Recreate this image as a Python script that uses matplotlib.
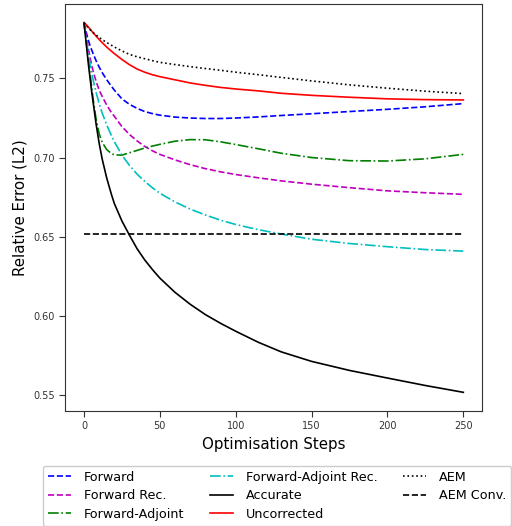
import matplotlib
matplotlib.use("Agg")
import matplotlib.pyplot as plt

# values
steps = [0, 1, 2, 3, 4, 5, 6, 8, 10, 12, 15, 18, 20, 25, 30, 35, 40, 45, 50,
         60, 70, 80, 90, 100, 115, 130, 150, 175, 200, 225, 250]

forward = [0.785, 0.781, 0.777, 0.7735, 0.7705, 0.768, 0.7655, 0.761, 0.757, 0.7535, 0.749, 0.745, 0.7425,
           0.737, 0.7335, 0.731, 0.729, 0.7277, 0.7267,
           0.7255, 0.7249, 0.7246, 0.7246, 0.7249, 0.7256, 0.7265, 0.7276, 0.729, 0.7304, 0.732, 0.734]
forward_rec = [0.785, 0.779, 0.7735, 0.768, 0.763, 0.7585, 0.7545, 0.748, 0.7425, 0.7385, 0.733, 0.7285, 0.726,
               0.7195, 0.7145, 0.7105, 0.707, 0.7043, 0.702,
               0.6985, 0.6955, 0.693, 0.691, 0.6893, 0.6872, 0.6853, 0.6832, 0.681, 0.679, 0.6778, 0.6768]
forward_adj = [0.785, 0.777, 0.769, 0.761, 0.753, 0.745, 0.737, 0.724, 0.715, 0.7095, 0.705, 0.7025, 0.7017,
               0.7015, 0.703, 0.7045, 0.706, 0.7072, 0.7083,
               0.7103, 0.7113, 0.7112, 0.7099, 0.7082, 0.7055, 0.7027, 0.700, 0.698, 0.6978, 0.6992, 0.702]
forward_adj_rec = [0.785, 0.778, 0.771, 0.765, 0.759, 0.754, 0.749, 0.741, 0.734, 0.728, 0.7205, 0.714, 0.710,
                   0.7015, 0.695, 0.6895, 0.685, 0.681, 0.6775,
                   0.672, 0.6675, 0.6638, 0.6605, 0.6578, 0.6545, 0.6518, 0.6485, 0.6458, 0.6438, 0.642, 0.641]
accurate = [0.785, 0.776, 0.767, 0.758, 0.750, 0.742, 0.735, 0.721, 0.709, 0.699, 0.687, 0.677, 0.671,
            0.660, 0.651, 0.6425, 0.6355, 0.6295, 0.624,
            0.615, 0.6075, 0.601, 0.5955, 0.5905, 0.5835, 0.5775, 0.5715, 0.5658, 0.561, 0.5563, 0.552]
uncorrected = [0.785, 0.7842, 0.7832, 0.7821, 0.781, 0.7798, 0.7787, 0.7765, 0.7744, 0.7724, 0.7696, 0.7671, 0.7655,
               0.7618, 0.7585, 0.7558, 0.7538, 0.7522, 0.751,
               0.749, 0.747, 0.7455, 0.7442, 0.7432, 0.742, 0.7405, 0.7392, 0.738, 0.737, 0.7365, 0.7363]
aem = [0.785, 0.7838, 0.7827, 0.7816, 0.7806, 0.7797, 0.7788, 0.7772, 0.7757, 0.7743, 0.7725, 0.7708, 0.7697,
       0.7672, 0.765, 0.7635, 0.7623, 0.7611, 0.760,
       0.7586, 0.7573, 0.7561, 0.755, 0.7538, 0.7522, 0.7505, 0.7483, 0.7458, 0.7437, 0.7418, 0.7403]
aem_conv = 0.6515

fig = plt.figure(figsize=(5.12, 5.26), dpi=100)
ax = fig.add_axes([0.127, 0.219, 0.815, 0.773])

lw = 1.2
ax.plot(steps, forward, 'b--', lw=lw, label='Forward')
ax.plot(steps, forward_rec, 'm--', lw=lw, label='Forward Rec.')
ax.plot(steps, forward_adj, 'g-.', lw=lw, label='Forward-Adjoint')
ax.plot(steps, forward_adj_rec, 'c-.', lw=lw, label='Forward-Adjoint Rec.')
ax.plot(steps, accurate, 'k-', lw=lw, label='Accurate')
ax.plot(steps, uncorrected, 'r-', lw=lw, label='Uncorrected')
ax.plot(steps, aem, 'k:', lw=lw, label='AEM')
ax.plot([steps[0], steps[-1]], [aem_conv, aem_conv], 'k--', lw=lw, label='AEM Conv.')

ax.set_xticks([0, 50, 100, 150, 200, 250])
ax.set_yticks([0.55, 0.60, 0.65, 0.70, 0.75])
ax.tick_params(labelsize=7, colors='#333333', length=4)
for s in ax.spines.values():
    s.set_color('#333333')
    s.set_linewidth(0.8)
ax.set_xlabel('Optimisation Steps', fontsize=10.8)
ax.set_ylabel('Relative Error (L2)', fontsize=10.8)

ax.legend(loc='upper left', bbox_to_anchor=(-0.053, -0.135), borderaxespad=0, ncol=3, fontsize=9.2,
          handlelength=1.8, handletextpad=1.0, columnspacing=2.0, labelspacing=0.42, framealpha=1)

fig.savefig('out.png', dpi=100)
